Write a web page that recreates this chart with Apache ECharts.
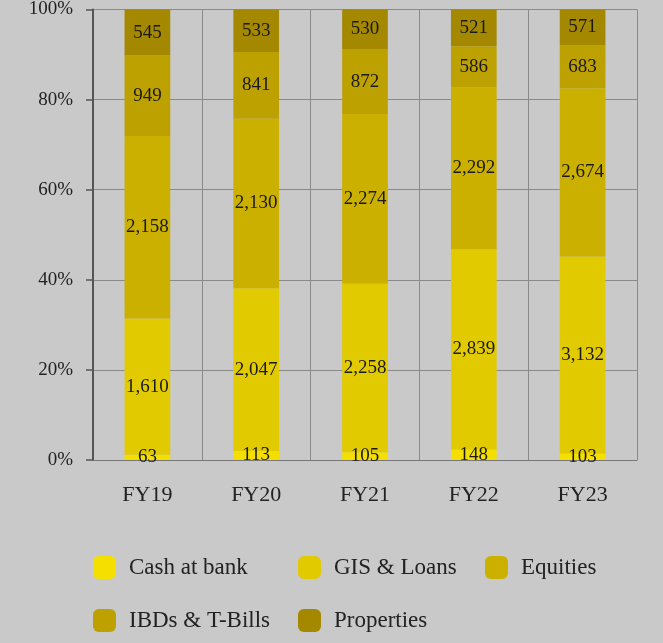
<!DOCTYPE html>
<html>
<head>
<meta charset="utf-8">
<script src="https://cdn.jsdelivr.net/npm/echarts@6/dist/echarts.min.js"></script>
<style>
  html, body { margin: 0; padding: 0; background: #c9c9c9; }
  #chart { width: 663px; height: 643px; }
</style>
</head>
<body>
<div id="chart"></div>
<script>
const categories = ['FY19', 'FY20', 'FY21', 'FY22', 'FY23']
const cashAtBank = [63, 113, 105, 148, 103]
const gisLoans = [1610, 2047, 2258, 2839, 3132]
const equities = [2158, 2130, 2274, 2292, 2674]
const ibdsTBills = [949, 841, 872, 586, 683]
const properties = [545, 533, 530, 521, 571]
const yTicks = ['0%', '20%', '40%', '60%', '80%', '100%']

const seriesNames = ['Cash at bank', 'GIS & Loans', 'Equities', 'IBDs & T-Bills', 'Properties']
const seriesValues = [cashAtBank, gisLoans, equities, ibdsTBills, properties]
const colors = ['#f4df00', '#e2ca00', '#cbb000', '#bca100', '#a38800']

const fontFamily = '"Liberation Serif", "DejaVu Serif", serif'

// totals per year, used to turn the raw values into shares of 100%
const totals = categories.map((c, i) => seriesValues.reduce((s, arr) => s + arr[i], 0))

const chart = echarts.init(document.getElementById('chart'))

const legendPos = [
  { left: 88, top: 551 },
  { left: 293, top: 551 },
  { left: 480, top: 551 },
  { left: 88, top: 604 },
  { left: 293, top: 604 }
]

chart.setOption({
  backgroundColor: '#c9c9c9',
  textStyle: { fontFamily },
  legend: seriesNames.map((name, i) => ({
    data: [name],
    left: legendPos[i].left,
    top: legendPos[i].top,
    icon: 'roundRect',
    itemWidth: 23,
    itemHeight: 23,
    itemGap: 10,
    textStyle: { fontFamily, fontSize: 23, color: '#222', padding: [0, 0, 0, 8] }
  })),
  grid: {
    left: 93,
    right: 26,
    top: 8,
    bottom: 183
  },
  xAxis: {
    type: 'category',
    data: categories,
    axisLine: { lineStyle: { color: '#777', width: 1 } },
    axisTick: { show: false },
    splitLine: { show: true, lineStyle: { color: '#8a8a8a', width: 1 } },
    axisLabel: { fontFamily, fontSize: 22, color: '#222', margin: 24 }
  },
  yAxis: {
    type: 'value',
    min: 0,
    max: 100,
    interval: 20,
    axisLine: { show: true, lineStyle: { color: '#555', width: 2 } },
    axisTick: { show: true, length: 7, lineStyle: { color: '#555', width: 1.5 } },
    splitLine: { show: true, lineStyle: { color: '#8a8a8a', width: 1 } },
    axisLabel: {
      fontFamily,
      fontSize: 19,
      color: '#222',
      margin: 20,
      formatter: (v) => yTicks[v / 20]
    }
  },
  series: seriesNames.map((name, si) => ({
    name,
    type: 'bar',
    stack: 'total',
    barWidth: '42%',
    itemStyle: { color: colors[si] },
    label: {
      show: true,
      position: 'inside',
      fontFamily,
      fontSize: 19,
      color: '#1a1a1a',
      formatter: (p) => seriesValues[si][p.dataIndex].toLocaleString('en-US')
    },
    data: seriesValues[si].map((v, i) => (v / totals[i]) * 100)
  }))
})
</script>
</body>
</html>
